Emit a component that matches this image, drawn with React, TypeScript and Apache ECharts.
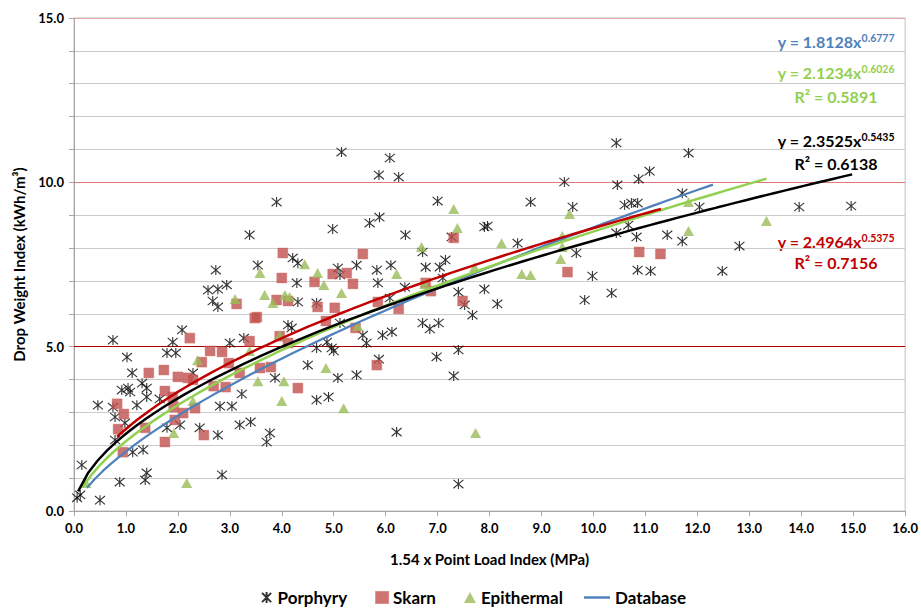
import React, { useEffect, useRef } from "react";
import * as echarts from "echarts";

// ---- data ----
const porphyry: [number, number][] = [
  [0.06,0.40],[0.12,0.49],[0.15,1.40],[0.50,0.33],[0.88,0.88],[1.37,0.94],[1.40,1.16],[2.85,1.10],
  [1.13,1.79],[1.33,1.86],[0.79,2.16],[0.46,3.22],[0.75,3.16],[0.79,2.86],[0.98,2.68],[0.75,5.20],
  [1.02,4.68],[1.12,4.20],[1.31,3.89],[0.92,3.68],[1.04,3.74],[1.08,3.62],[1.40,3.74],[1.40,3.47],
  [1.21,3.22],[1.79,4.81],[1.96,4.81],[1.90,5.14],[2.08,5.51],[1.65,3.41],[1.79,2.53],[2.04,2.62],
  [2.42,2.53],[2.29,4.20],[2.77,2.31],[2.81,3.19],[3.04,3.19],[3.00,5.11],[3.27,5.26],[3.23,3.56],
  [3.19,2.62],[3.40,2.71],[3.71,2.10],[3.77,2.37],[3.87,4.05],[2.73,7.33],[2.58,6.72],[2.77,6.75],
  [2.94,6.88],[2.67,6.39],[2.77,6.21],[3.54,7.48],[4.21,7.70],[4.31,7.54],[4.29,6.94],[4.31,6.36],
  [4.67,6.33],[4.12,5.66],[4.19,5.57],[4.50,4.44],[4.67,3.38],[4.90,3.47],[4.67,4.96],[3.90,9.40],
  [3.38,8.40],[5.08,7.39],[5.12,7.18],[5.44,7.48],[4.87,5.14],[4.96,4.96],[5.00,4.87],[5.44,4.14],
  [5.08,4.05],[5.15,10.92],[6.08,10.74],[5.87,10.22],[6.25,10.16],[7.00,9.43],[5.69,8.76],[5.88,8.94],
  [4.98,8.58],[6.38,8.40],[7.27,8.34],[7.90,8.64],[7.96,8.67],[8.79,9.40],[9.44,10.01],[9.60,9.25],
  [8.54,8.15],[6.71,7.88],[5.83,7.33],[6.10,7.48],[5.85,6.94],[6.77,7.42],[7.04,7.42],[7.15,7.64],
  [7.10,7.09],[6.37,6.81],[7.40,6.66],[7.90,6.75],[6.08,6.48],[7.52,6.27],[7.67,5.96],[8.15,6.30],
  [9.98,7.15],[9.67,7.85],[9.83,6.42],[5.12,5.72],[5.56,5.35],[5.63,5.11],[5.94,5.35],[6.12,5.45],
  [6.71,5.72],[6.85,5.54],[7.02,5.72],[5.87,4.62],[6.98,4.69],[7.40,4.90],[7.31,4.11],[6.21,2.40],
  [7.40,0.82],[10.44,11.20],[11.83,10.89],[11.08,10.34],[10.87,10.10],[10.46,9.92],[11.71,9.67],
  [10.60,9.31],[10.73,9.37],[10.85,9.37],[12.04,9.25],[10.67,8.70],[10.44,8.46],[10.83,8.34],
  [11.42,8.40],[11.71,8.21],[13.96,9.25],[14.96,9.28],[12.81,8.06],[10.85,7.33],[11.10,7.30],
  [12.48,7.30],[10.35,6.63]
];

const skarn: [number, number][] = [
  [4.02,7.85],[4.00,7.09],[4.63,6.97],[4.98,7.21],[5.25,7.24],[5.37,6.91],[3.90,6.42],[4.12,6.39],
  [3.13,6.30],[3.48,5.87],[3.52,5.90],[4.69,6.21],[5.02,6.18],[4.85,5.78],[5.42,5.57],[5.56,7.82],
  [5.85,6.36],[6.25,6.15],[6.77,6.94],[6.87,6.69],[7.31,8.31],[7.48,6.39],[5.83,4.44],[9.50,7.27],
  [10.88,7.88],[11.29,7.82],[4.31,3.74],[2.23,5.26],[2.62,4.87],[2.85,4.84],[2.98,4.50],[3.38,5.17],
  [3.96,5.32],[4.12,5.11],[1.44,4.20],[1.73,4.29],[2.00,4.08],[2.19,4.05],[2.29,3.99],[2.46,4.53],
  [2.69,3.80],[2.92,3.77],[3.19,4.20],[3.58,4.35],[3.79,4.38],[1.75,3.65],[1.90,3.47],[1.92,3.16],
  [2.10,2.98],[1.94,2.77],[2.33,3.13],[2.50,2.31],[0.83,3.26],[0.96,2.95],[0.85,2.49],[1.37,2.53],
  [1.75,2.10],[0.94,1.79]
];

const epithermal: [number, number][] = [
  [0.23,0.85],[2.17,0.85],[1.92,2.37],[2.29,3.35],[2.38,4.59],[3.10,6.45],[3.58,7.24],[3.67,6.57],
  [3.83,6.33],[4.06,6.57],[4.15,6.51],[4.44,7.51],[4.69,7.24],[4.81,6.88],[5.15,6.63],[3.54,3.95],
  [4.04,3.95],[4.00,3.35],[3.96,5.35],[3.38,4.87],[4.85,4.35],[5.19,3.13],[5.46,5.63],[6.21,7.21],
  [6.69,8.03],[7.31,9.19],[7.38,8.61],[8.23,8.15],[7.71,7.42],[6.75,6.91],[8.62,7.21],[8.79,7.18],
  [9.37,7.67],[9.40,8.37],[9.40,8.03],[9.54,9.04],[7.73,2.37],[11.83,9.40],[11.83,8.52],[13.33,8.82]
];

// Power-law trendlines shown in the chart: [coefficient, exponent]
const databaseFit = [1.8128, 0.6777];
const epithermalFit = [2.1234, 0.6026];
const porphyryFit = [2.3525, 0.5435];
const skarnFit = [2.4964, 0.5375];
// x ranges of the drawn trendlines
const databaseRange = [0.25, 12.3];
const epithermalRange = [0.17, 13.33];
const porphyryRange = [0.08, 14.98];
const skarnRange = [0.83, 11.3];

const xTicks = { min: 0, max: 16, step: 1 };
const yTicks = { min: 0, max: 15, step: 1 };
const highlightLines = [5, 10, 15];

function powerCurve(fit: number[], range: number[]): [number, number][] {
  const pts: [number, number][] = [];
  const n = 80;
  for (let i = 0; i <= n; i++) {
    const x = range[0] + ((range[1] - range[0]) * i) / n;
    pts.push([x, fit[0] * Math.pow(x, fit[1])]);
  }
  return pts;
}

const FONT = "Lato, 'Open Sans', sans-serif";
const ASTERISK = "path://M0,0L10,10M10,0L0,10M5,-1L5,11";

export default function App() {
  const ref = useRef<HTMLDivElement>(null);
  useEffect(() => {
    document.body.style.margin = "0";
    if (!ref.current) return;
    const chart = echarts.init(ref.current, undefined, { renderer: "svg" });
    const eq = (cx: number, y: number, color: string, main: string, sup: string) => ({
      type: "text",
      x: cx,
      y,
      style: {
        text: `{m|${main}}{s|${sup}}`,
        align: "center",
        verticalAlign: "middle",
        fill: color,
        rich: {
          m: { fontSize: 16, fontWeight: "bold", fontFamily: FONT, fill: color, lineHeight: 17, verticalAlign: "bottom" },
          s: { fontSize: 10.5, fontWeight: "bold", fontFamily: FONT, fill: color, lineHeight: 17, verticalAlign: "top", padding: [0, 0, 5, 0] },
        },
      },
    });
    const r2 = (cx: number, y: number, color: string, t: string) => ({
      type: "text",
      x: cx,
      y,
      style: { text: t, align: "center", verticalAlign: "middle", fill: color, font: `bold 16px ${FONT}` },
    });
    const legendText = { fontFamily: FONT, fontWeight: "bold", fontSize: 17, color: "#000" };
    chart.setOption({
      animation: false,
      backgroundColor: "#ffffff",
      grid: { left: 74, right: 15, top: 18, bottom: 99, show: true, borderColor: "#bfbfbf", borderWidth: 1 },
      xAxis: {
        type: "value",
        min: xTicks.min,
        max: xTicks.max,
        interval: xTicks.step,
        name: "1.54 x Point Load Index (MPa)",
        nameLocation: "middle",
        nameGap: 40,
        nameTextStyle: { fontFamily: FONT, fontWeight: "bold", fontSize: 15, color: "#000" },
        axisLine: { lineStyle: { color: "#a6a6a6", width: 1 } },
        axisTick: { show: true, inside: false, length: 5, lineStyle: { color: "#a6a6a6" } },
        axisLabel: { margin: 10, formatter: (v: number) => v.toFixed(1), fontFamily: FONT, fontWeight: "bold", fontSize: 13, color: "#000" },
        splitLine: { show: false },
      },
      yAxis: {
        type: "value",
        min: yTicks.min,
        max: yTicks.max,
        interval: yTicks.step,
        name: "Drop Weight Index (kWh/m³)",
        nameLocation: "middle",
        nameGap: 48,
        nameTextStyle: { fontFamily: FONT, fontWeight: "bold", fontSize: 15, color: "#000" },
        axisLine: { show: true, lineStyle: { color: "#a6a6a6", width: 1 } },
        axisTick: { show: true, inside: false, length: 5, lineStyle: { color: "#a6a6a6" } },
        axisLabel: {
          margin: 10,
          formatter: (v: number) => (v % 5 === 0 ? v.toFixed(1) : ""),
          fontFamily: FONT, fontWeight: "bold", fontSize: 13, color: "#000",
        },
        splitLine: { show: true, lineStyle: { color: "#cccccc", width: 1.2 } },
      },
      legend: [
        {
          data: ["Porphyry", "Skarn", "Epithermal"],
          left: 256,
          top: 584,
          itemWidth: 12,
          itemHeight: 11,
          itemGap: 28,
          textStyle: legendText,
        },
        {
          data: [{ name: "Database", icon: "rect" }],
          left: 579,
          top: 584,
          itemWidth: 26,
          itemHeight: 2.5,
          textStyle: legendText,
        },
      ],
      graphic: [
        eq(836, 41, "#4f81bd", "y = 1.8128x", "0.6777"),
        eq(836, 72, "#92d050", "y = 2.1234x", "0.6026"),
        r2(836, 96, "#92d050", "R² = 0.5891"),
        eq(836, 140, "#000000", "y = 2.3525x", "0.5435"),
        r2(836, 163, "#000000", "R² = 0.6138"),
        eq(836, 241, "#c00000", "y = 2.4964x", "0.5375"),
        r2(836, 262, "#c00000", "R² = 0.7156"),
      ],
      series: [
        {
          name: "Porphyry",
          type: "scatter",
          data: porphyry,
          symbol: ASTERISK,
          symbolSize: 10,
          itemStyle: { color: "rgba(0,0,0,0)", borderColor: "#000", borderWidth: 1.1 },
          markLine: {
            silent: true,
            symbol: "none",
            z: 1,
            label: { show: false },
            data: [
              { yAxis: highlightLines[0], lineStyle: { color: "#b00000", width: 1, type: "solid" } },
              { yAxis: highlightLines[1], lineStyle: { color: "#e07a7a", width: 1.2, type: "solid" } },
              { yAxis: highlightLines[2], lineStyle: { color: "#eaa6a6", width: 1.2, type: "solid" } },
            ],
          },
        },
        {
          name: "Skarn",
          type: "scatter",
          data: skarn,
          symbol: "rect",
          symbolSize: 10,
          itemStyle: { color: "#c0504d", borderColor: "#d07370", borderWidth: 0.5 },
        },
        {
          name: "Epithermal",
          type: "scatter",
          data: epithermal,
          symbol: "triangle",
          symbolSize: [11, 10],
          itemStyle: { color: "#9bbb59" },
        },
        {
          name: "Database",
          type: "line",
          data: powerCurve(databaseFit, databaseRange),
          showSymbol: false,
          symbol: "none",
          z: 4,
          lineStyle: { color: "#4f81bd", width: 2.25 },
          itemStyle: { color: "#4f81bd" },
        },
        {
          name: "Epithermal fit",
          type: "line",
          data: powerCurve(epithermalFit, epithermalRange),
          symbol: "none",
          z: 4,
          lineStyle: { color: "#92d050", width: 2.5 },
        },
        {
          name: "Porphyry fit",
          type: "line",
          data: powerCurve(porphyryFit, porphyryRange),
          symbol: "none",
          z: 4,
          lineStyle: { color: "#000000", width: 2.5 },
        },
        {
          name: "Skarn fit",
          type: "line",
          data: powerCurve(skarnFit, skarnRange),
          symbol: "none",
          z: 4,
          lineStyle: { color: "#c00000", width: 2.5 },
        },
      ],
    });
    return () => chart.dispose();
  }, []);
  return <div ref={ref} style={{ width: 921, height: 610 }} />;
}
